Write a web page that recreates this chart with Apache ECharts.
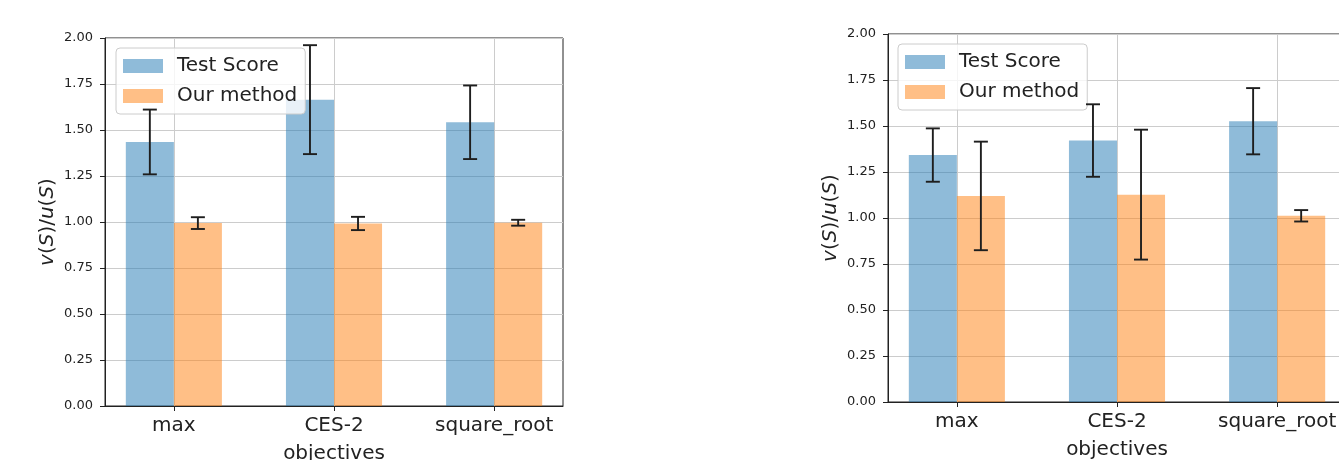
<!DOCTYPE html>
<html>
<head>
<meta charset="utf-8">
<script src="https://cdn.jsdelivr.net/npm/echarts@6/dist/echarts.min.js"></script>
<style>
html,body{margin:0;padding:0;background:#fff;}
#chart{width:1339px;height:460px;}
</style>
</head>
<body>
<div id="chart"></div>
<script>
const categories = ['max', 'CES-2', 'square_root'];
const yTicks = [0, 0.25, 0.5, 0.75, 1.0, 1.25, 1.5, 1.75, 2.0];
const seriesNames = ['Test Score', 'Our method'];

const leftTest = [1.435, 1.665, 1.542];
const leftTestErr = [0.176, 0.296, 0.200];
const leftOurs = [0.994, 0.992, 0.996];
const leftOursErr = [0.032, 0.036, 0.016];

const rightTest = [1.342, 1.421, 1.526];
const rightTestErr = [0.145, 0.197, 0.180];
const rightOurs = [1.120, 1.127, 1.012];
const rightOursErr = [0.295, 0.353, 0.031];

const FONT = 'DejaVu Sans';
const TXT = '#222';
const BLUE = 'rgba(31,119,180,0.5)';
const ORANGE = 'rgba(255,127,14,0.5)';
const BAR_W = 0.3;

const chart = echarts.init(document.getElementById('chart'), null, {renderer: 'canvas'});

function barSeries(name, values, offset, color, idx) {
  return {
    type: 'custom', name: name,
    xAxisIndex: idx, yAxisIndex: idx,
    itemStyle: {color: color},
    data: values.map((v, i) => [i, v]),
    renderItem: function (params, api) {
      const x = api.value(0);
      const p0 = api.coord([x + offset, 0]);
      const p1 = api.coord([x + offset + BAR_W, api.value(1)]);
      return {
        type: 'rect',
        shape: {x: p0[0], y: p1[1], width: p1[0] - p0[0], height: p0[1] - p1[1]},
        style: {fill: color}
      };
    },
    z: 2
  };
}

function errSeries(values, errs, offset, idx) {
  return {
    type: 'custom', name: 'err',
    xAxisIndex: idx, yAxisIndex: idx,
    data: values.map((v, i) => [i, v, errs[i]]),
    renderItem: function (params, api) {
      const x = api.value(0) + offset;
      const m = api.value(1), e = api.value(2);
      const top = api.coord([x, m + e]);
      const bot = api.coord([x, m - e]);
      const cap = 7;
      const st = {stroke: '#1e1e1e', lineWidth: 1.9};
      return {
        type: 'group',
        children: [
          {type: 'line', shape: {x1: top[0], y1: top[1], x2: bot[0], y2: bot[1]}, style: st},
          {type: 'line', shape: {x1: top[0] - cap, y1: top[1], x2: top[0] + cap, y2: top[1]}, style: st},
          {type: 'line', shape: {x1: bot[0] - cap, y1: bot[1], x2: bot[0] + cap, y2: bot[1]}, style: st}
        ]
      };
    },
    z: 5
  };
}

function xAxis(idx) {
  return {
    type: 'value', gridIndex: idx, min: -0.43, max: 2.43,
    axisLine: {show: true, onZero: false, lineStyle: {color: TXT, width: 1}},
    axisTick: {show: true, customValues: [0, 1, 2], length: 5, lineStyle: {color: TXT, width: 1}},
    axisLabel: {customValues: [0, 1, 2], formatter: v => categories[Math.round(v)],
      fontSize: 20, fontFamily: FONT, color: TXT, margin: 10},
    splitLine: {show: true, lineStyle: {color: '#cccccc', width: 1}},
    name: 'objectives', nameLocation: 'middle', nameGap: 38,
    nameTextStyle: {fontSize: 20, fontFamily: FONT, color: TXT}
  };
}

function yAxis(idx) {
  return {
    type: 'value', gridIndex: idx, min: 0, max: 2, interval: 0.25,
    axisLine: {show: true, onZero: false, lineStyle: {color: TXT, width: 1}},
    axisTick: {show: true, length: 5, lineStyle: {color: TXT, width: 1}},
    axisLabel: {formatter: v => yTicks.includes(v) ? v.toFixed(2) : '', fontSize: 13, fontFamily: FONT, color: TXT, margin: 12},
    splitLine: {show: true, lineStyle: {color: '#cccccc', width: 1}},
    name: '{i|v}({i|S})/{i|u}({i|S})', nameLocation: 'middle', nameGap: 47,
    nameTextStyle: {fontSize: 20, fontFamily: FONT, color: TXT,
      rich: {i: {fontSize: 20, fontFamily: FONT, fontStyle: 'italic', color: TXT}}}
  };
}

function legend(left, top) {
  return {
    orient: 'vertical', left: left, top: top,
    data: seriesNames, icon: 'rect',
    itemWidth: 40, itemHeight: 14, itemGap: 10,
    textStyle: {fontSize: 20, fontFamily: FONT, color: TXT, lineHeight: 20, padding: [0, 0, 0, 9]},
    backgroundColor: 'rgba(255,255,255,0.8)',
    borderColor: '#cccccc', borderWidth: 1, borderRadius: 4,
    padding: [8, 8, 8, 7],
    selectedMode: false
  };
}

const option = {
  animation: false,
  backgroundColor: '#ffffff',
  textStyle: {fontFamily: FONT},
  grid: [
    {left: 105, top: 38, width: 458, height: 368, show: true, borderColor: TXT, borderWidth: 1,
      backgroundColor: 'transparent', containLabel: false, outerBoundsMode: 'none'},
    {left: 888, top: 34, width: 458, height: 368, show: true, borderColor: TXT, borderWidth: 1,
      backgroundColor: 'transparent', containLabel: false, outerBoundsMode: 'none'}
  ],
  xAxis: [xAxis(0), xAxis(1)],
  yAxis: [yAxis(0), yAxis(1)],
  legend: [legend(116, 48), legend(898, 44)],
  series: [
    barSeries(seriesNames[0], leftTest, -BAR_W, BLUE, 0),
    barSeries(seriesNames[1], leftOurs, 0, ORANGE, 0),
    errSeries(leftTest, leftTestErr, -BAR_W / 2, 0),
    errSeries(leftOurs, leftOursErr, BAR_W / 2, 0),
    barSeries(seriesNames[0], rightTest, -BAR_W, BLUE, 1),
    barSeries(seriesNames[1], rightOurs, 0, ORANGE, 1),
    errSeries(rightTest, rightTestErr, -BAR_W / 2, 1),
    errSeries(rightOurs, rightOursErr, BAR_W / 2, 1)
  ]
};
chart.setOption(option);
</script>
</body>
</html>
